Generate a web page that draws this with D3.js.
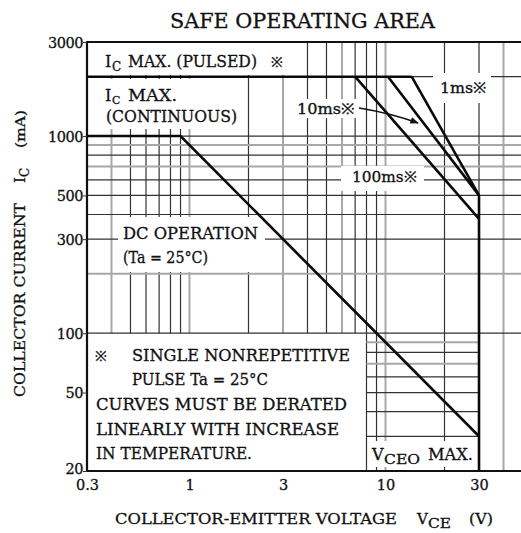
<!DOCTYPE html>
<html><head><meta charset="utf-8">
<script src="https://cdn.jsdelivr.net/npm/d3@7"></script>
<style>body{margin:0;background:#fff}svg{display:block}</style>
</head><body>
<svg id="c" width="521" height="533"></svg>
<script>
// ---- data ----
const xTicks = [0.3, 1, 3, 10, 30];
const yTicks = [20, 50, 100, 300, 500, 1000, 3000];
const xGrid = [0.4,0.5,0.6,0.7,0.8,0.9,1,2,3,4,5,6,7,8,9,10,20,30,40];
const yGrid = [30,40,50,60,70,80,90,100,200,300,400,500,600,700,800,900,1000,2000];
const pulsedV = [0.3, 13.6], pulsedI = [2000, 2000];
const dcV = [0.3, 0.9, 30], dcI = [1000, 1000, 30];
const ms100V = [7, 30], ms100I = [2000, 380];
const ms10V = [10.3, 30], ms10I = [2000, 500];
const ms1V = [13.6, 30], ms1I = [2000, 500];
const vceoV = [30, 30], vceoI = [500, 20];

// ---- setup ----
const svg = d3.select('#c');
const FONT = '"DejaVu Serif", "Liberation Serif", serif';
svg.append('rect').attr('width',521).attr('height',533).attr('fill','#fff');
const x = d3.scaleLog().domain([0.3, 50]).range([87, 522.5]);
const y = d3.scaleLog().domain([20, 3000]).range([471, 42]);

const grayX = new Set([0.4, 1, 3, 6, 10, 40]);
const grayY = new Set([200, 700, 900, 70, 90]);
const grid = svg.append('g');
xGrid.forEach(v => {
  grid.append('line').attr('x1', x(v)).attr('x2', x(v))
    .attr('y1', y(3000)).attr('y2', v < 8 ? y(100) : y(20))
    .attr('stroke', grayX.has(v) ? '#a8a8a8' : '#333')
    .attr('stroke-width', grayX.has(v) ? 2 : 1.2);
});
yGrid.forEach(v => {
  const ext = v < 100 ? [x(8), x(30)] : [x(0.3), x(50)];
  grid.append('line').attr('y1', y(v)).attr('y2', y(v))
    .attr('x1', ext[0]).attr('x2', ext[1])
    .attr('stroke', grayY.has(v) ? '#a8a8a8' : '#333')
    .attr('stroke-width', grayY.has(v) ? 2 : 1.2);
});
// white label backgrounds
[[88,43,215,32],[88,79,157,50],[118,217,147,55],[341,166,83,25],[294,99,64,19],[433,73,58,30],[370,441,106,26]]
  .forEach(r => svg.append('rect').attr('x',r[0]).attr('y',r[1]).attr('width',r[2]).attr('height',r[3]).attr('fill','#fff'));

// frame
svg.append('path').attr('d', `M${x(50)},${y(3000)}H${x(0.3)}V${y(20)}H${x(50)}`)
  .attr('fill','none').attr('stroke','#111').attr('stroke-width',2.2);

// axes ticks/labels
const yAxis = d3.axisLeft(y).tickValues(yTicks).tickSize(4).tickFormat(d3.format('d'));
const ya = svg.append('g').attr('transform', `translate(${x(0.3)},0)`).call(yAxis);
ya.select('.domain').remove();
ya.selectAll('text').attr('font-family', FONT).attr('font-size', 14.5).attr('fill','#111')
  .attr('stroke','#111').attr('stroke-width',0.3)
  .attr('dy', d => d === 20 ? '0.2em' : '0.36em').attr('x',-4).attr('letter-spacing',-0.5);
ya.selectAll('line').attr('stroke','#333');
const xAxis = d3.axisBottom(x).tickValues(xTicks).tickSize(0).tickFormat(d => String(d));
const xa = svg.append('g').attr('transform', `translate(0,${y(20)})`).call(xAxis);
xa.select('.domain').remove();
xa.selectAll('text').attr('font-family', FONT).attr('font-size', 14.5).attr('fill','#111')
  .attr('stroke','#111').attr('stroke-width',0.3).attr('y', 9).attr('dy','0.71em');

// curves
const line = d3.line().x(d => x(d[0])).y(d => y(d[1]));
const zip = (a, b) => a.map((v, i) => [v, b[i]]);
[[pulsedV,pulsedI],[dcV,dcI],[ms100V,ms100I],[ms10V,ms10I],[ms1V,ms1I],[vceoV,vceoI]].forEach(s => {
  svg.append('path').attr('d', line(zip(s[0], s[1]))).attr('fill','none')
    .attr('stroke','#0a0a0a').attr('stroke-width',2.6).attr('stroke-linejoin','miter');
});

// arrow
svg.append('defs').append('marker').attr('id','ah').attr('viewBox','0 0 10 10')
  .attr('refX',9).attr('refY',5).attr('markerWidth',9).attr('markerHeight',6).attr('orient','auto')
  .append('path').attr('d','M0,1L10,5L0,9Z').attr('fill','#111');
svg.append('path').attr('d','M359,108Q390,113 418,123').attr('fill','none').attr('stroke','#111')
  .attr('stroke-width',1.4).attr('marker-end','url(#ah)');

// texts
function T(parent, px, py, s, size, w) {
  const t = parent.append('text').attr('x', px).attr('y', py).attr('font-family', FONT)
    .attr('font-size', size).attr('fill', '#111').attr('stroke', '#111').attr('stroke-width', 0.3).text(s);
  if (w) t.attr('textLength', w).attr('lengthAdjust', 'spacingAndGlyphs');
  return t;
}
const S = 16, SUB = 12;
T(svg, 170, 28, 'SAFE OPERATING AREA', 19.5, 265);
// pulsed
T(svg, 105, 67, 'I', S); T(svg, 112, 71, 'C', SUB);
T(svg, 128, 67, 'MAX. (PULSED)', S, 129); T(svg, 271, 67, '※', 14);
// continuous
T(svg, 105, 101, 'I', S); T(svg, 112, 104, 'C', 11);
T(svg, 128, 101, 'MAX.', S, 49);
T(svg, 106, 122, '(CONTINUOUS)', S, 131);
// DC operation
T(svg, 123, 239, 'DC OPERATION', S, 135);
T(svg, 123, 263, '(Ta = 25°C)', S, 85);
// note
T(svg, 95, 361, '※', 14);
T(svg, 132, 361, 'SINGLE NONREPETITIVE', S, 218);
T(svg, 132, 385, 'PULSE Ta = 25°C', S, 136);
T(svg, 96, 410, 'CURVES MUST BE DERATED', S, 251);
T(svg, 96, 435, 'LINEARLY WITH INCREASE', S, 243);
T(svg, 96, 459, 'IN TEMPERATURE.', S, 156);
// VCEO
T(svg, 372, 460, 'V', S); T(svg, 384, 464, 'CEO', SUB, 36);
T(svg, 428, 460, 'MAX.', S, 45);
// pulse labels
T(svg, 440, 93, '1ms※', 15, 47);
T(svg, 297, 114, '10ms※', 15, 58);
T(svg, 352, 182, '100ms※', 15, 65);

// axis titles
T(svg, 115, 524, 'COLLECTOR-EMITTER VOLTAGE', 15, 282);
T(svg, 417, 524, 'V', 15); T(svg, 428, 528, 'CE', 12, 23);
T(svg, 469, 524, '(V)', 15, 24);
const yl = svg.append('g').attr('transform', 'translate(25,0) rotate(-90)');
T(yl, -397, 0, 'COLLECTOR CURRENT', 15, 194);
T(yl, -183, 0, 'I', 15); T(yl, -177, 4, 'C', 12);
T(yl, -148, 0, '(mA)', 12, 38);
</script>
</body></html>
